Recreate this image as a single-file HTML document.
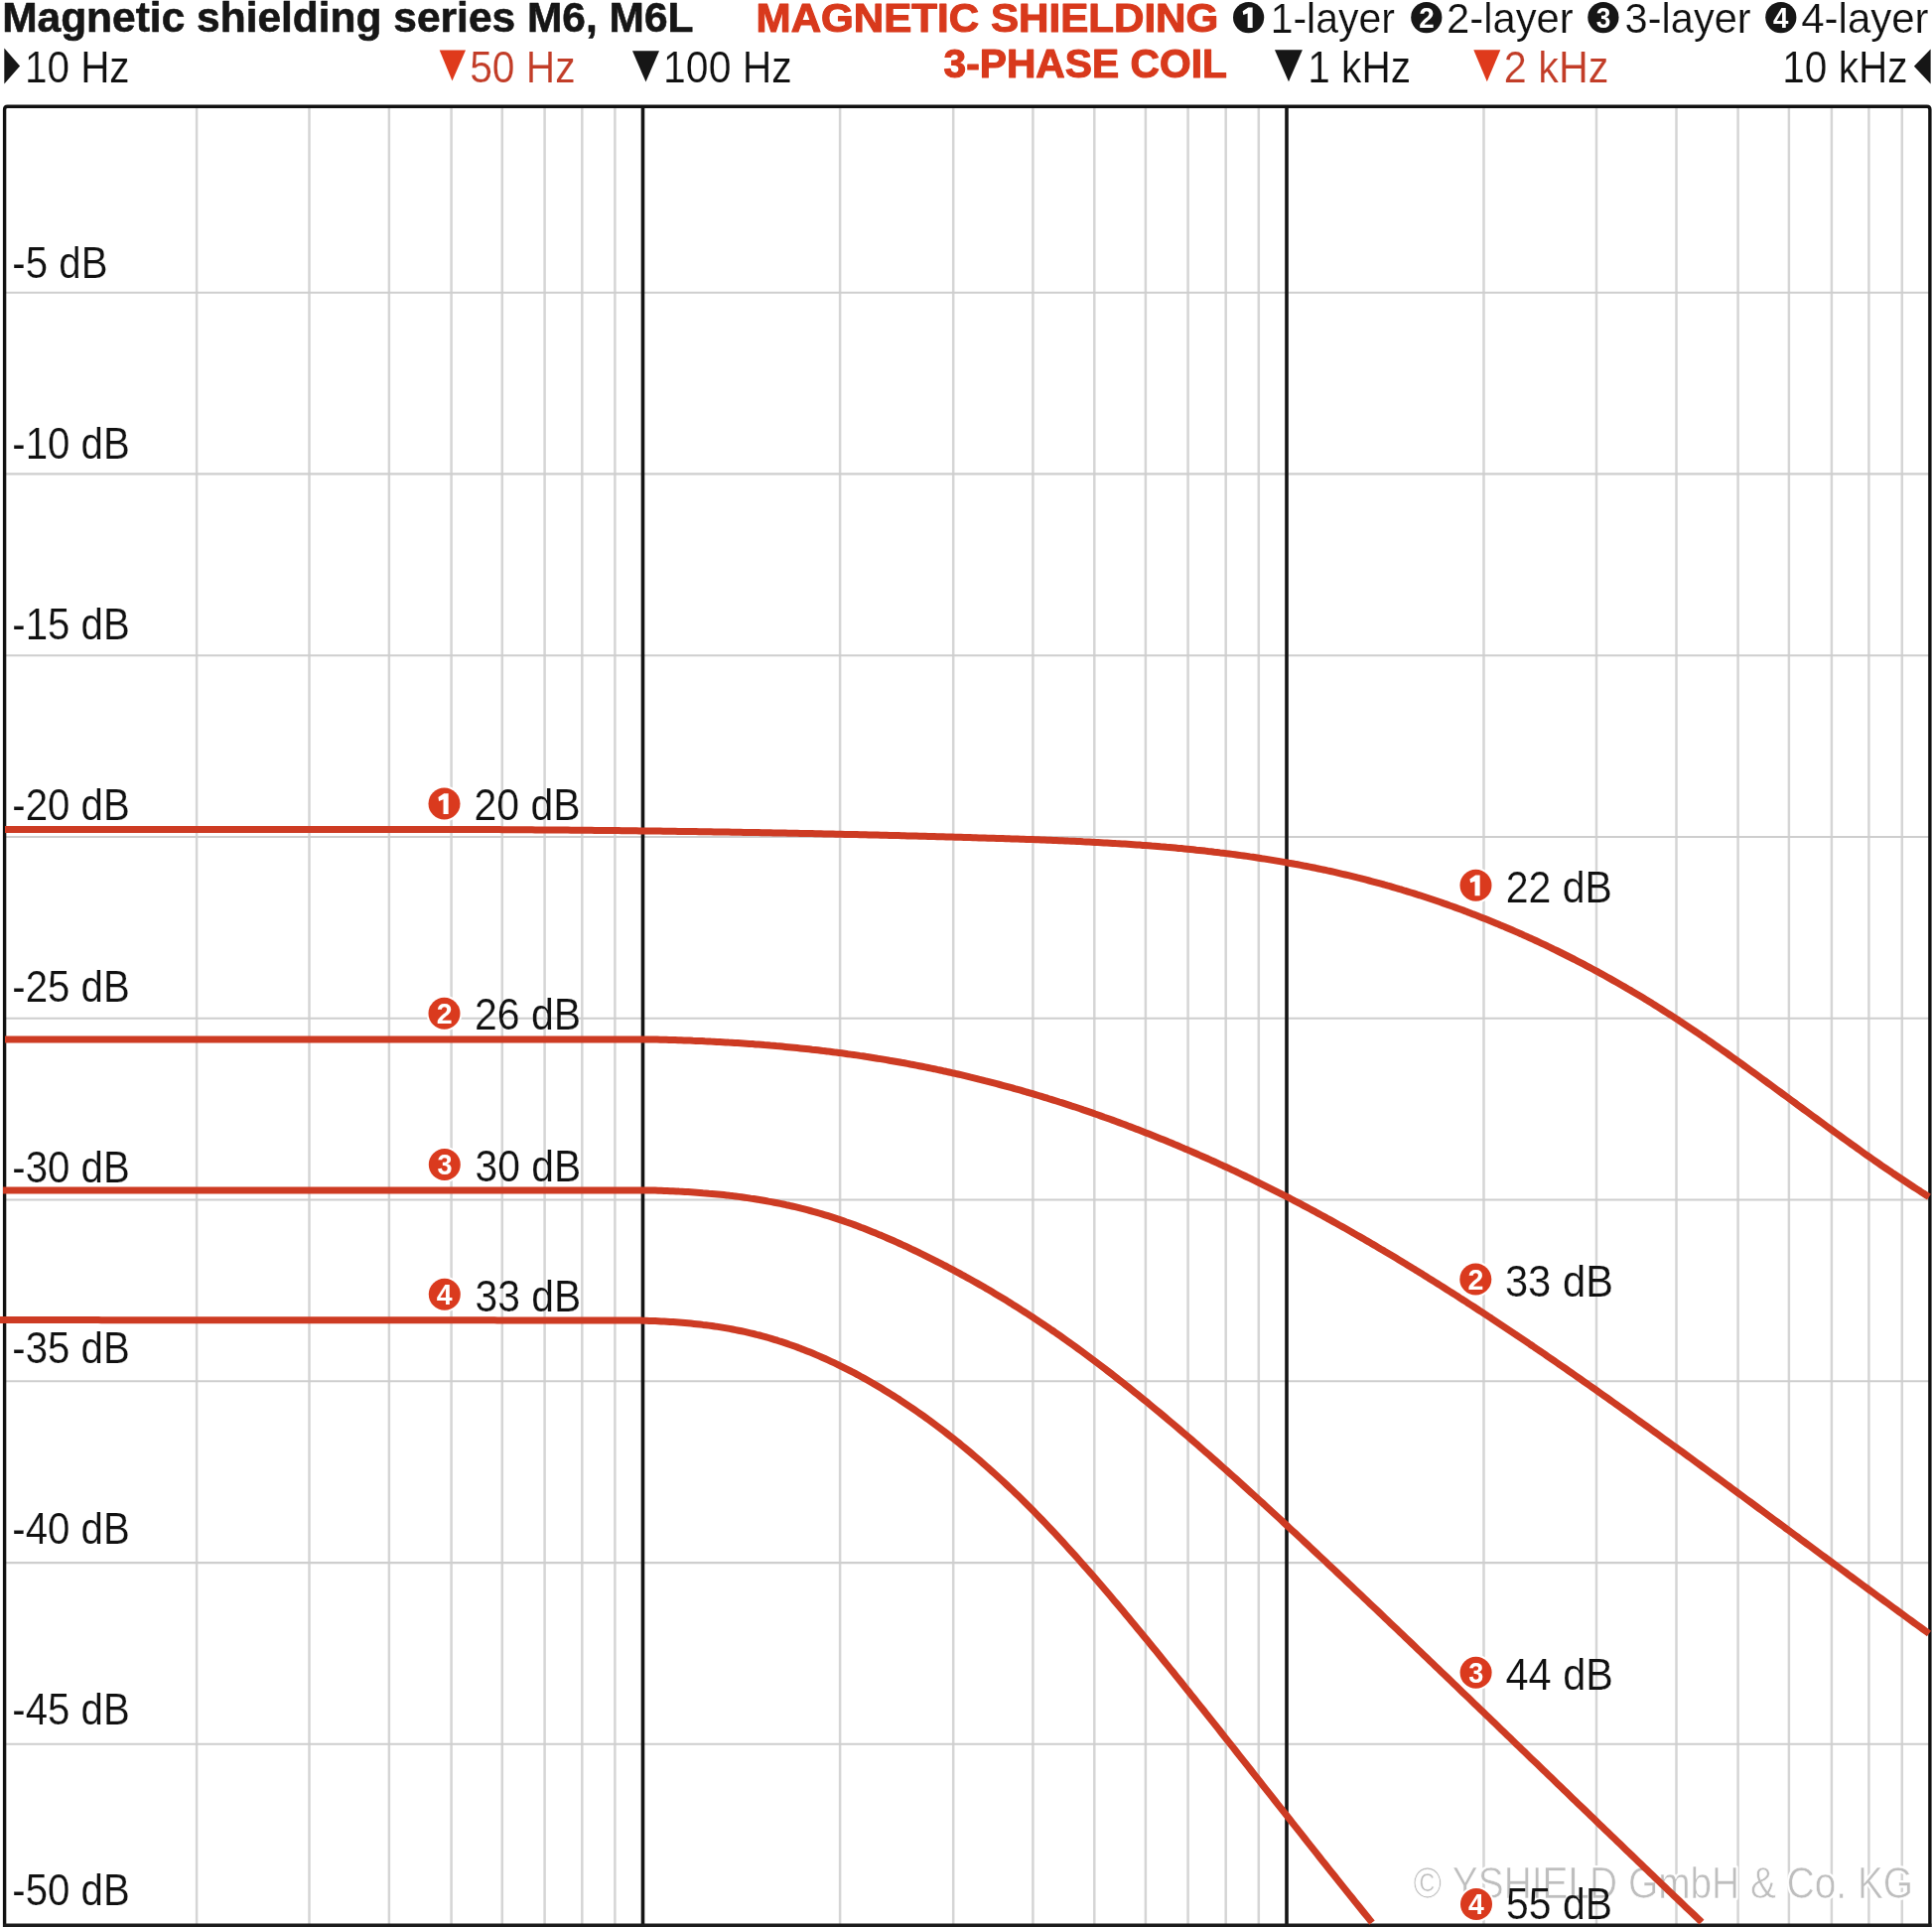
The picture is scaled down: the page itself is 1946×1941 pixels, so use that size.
<!DOCTYPE html><html><head><meta charset="utf-8"><style>html,body{margin:0;padding:0;background:#fff;width:1946px;height:1941px;overflow:hidden} svg{display:block;will-change:transform} text{font-family:"Liberation Sans", sans-serif;font-kerning:none}</style></head><body>
<svg width="1946" height="1941" viewBox="0 0 1946 1941">
<rect width="1946" height="1941" fill="#fff"/>
<g stroke="#d5d5d5" stroke-width="2.5">
<line x1="198.1" y1="107.2" x2="198.1" y2="1939.4"/>
<line x1="311.5" y1="107.2" x2="311.5" y2="1939.4"/>
<line x1="391.9" y1="107.2" x2="391.9" y2="1939.4"/>
<line x1="454.6" y1="107.2" x2="454.6" y2="1939.4"/>
<line x1="505.8" y1="107.2" x2="505.8" y2="1939.4"/>
<line x1="548.6" y1="107.2" x2="548.6" y2="1939.4"/>
<line x1="586.3" y1="107.2" x2="586.3" y2="1939.4"/>
<line x1="619.4" y1="107.2" x2="619.4" y2="1939.4"/>
<line x1="846.1" y1="107.2" x2="846.1" y2="1939.4"/>
<line x1="960.2" y1="107.2" x2="960.2" y2="1939.4"/>
<line x1="1040.4" y1="107.2" x2="1040.4" y2="1939.4"/>
<line x1="1102.3" y1="107.2" x2="1102.3" y2="1939.4"/>
<line x1="1153.9" y1="107.2" x2="1153.9" y2="1939.4"/>
<line x1="1196.6" y1="107.2" x2="1196.6" y2="1939.4"/>
<line x1="1234.7" y1="107.2" x2="1234.7" y2="1939.4"/>
<line x1="1267.8" y1="107.2" x2="1267.8" y2="1939.4"/>
<line x1="1494.5" y1="107.2" x2="1494.5" y2="1939.4"/>
<line x1="1608.0" y1="107.2" x2="1608.0" y2="1939.4"/>
<line x1="1688.5" y1="107.2" x2="1688.5" y2="1939.4"/>
<line x1="1750.6" y1="107.2" x2="1750.6" y2="1939.4"/>
<line x1="1801.9" y1="107.2" x2="1801.9" y2="1939.4"/>
<line x1="1844.9" y1="107.2" x2="1844.9" y2="1939.4"/>
<line x1="1882.4" y1="107.2" x2="1882.4" y2="1939.4"/>
<line x1="1915.8" y1="107.2" x2="1915.8" y2="1939.4"/>
</g><g stroke="#cecece" stroke-width="2.1">
<line x1="4.6" y1="294.7" x2="1943.9" y2="294.7"/>
<line x1="4.6" y1="477.4" x2="1943.9" y2="477.4"/>
<line x1="4.6" y1="660.2" x2="1943.9" y2="660.2"/>
<line x1="4.6" y1="843.0" x2="1943.9" y2="843.0"/>
<line x1="4.6" y1="1025.8" x2="1943.9" y2="1025.8"/>
<line x1="4.6" y1="1208.5" x2="1943.9" y2="1208.5"/>
<line x1="4.6" y1="1391.3" x2="1943.9" y2="1391.3"/>
<line x1="4.6" y1="1574.1" x2="1943.9" y2="1574.1"/>
<line x1="4.6" y1="1756.8" x2="1943.9" y2="1756.8"/>
</g>
<line x1="647.5" y1="107.2" x2="647.5" y2="1939.4" stroke="#141414" stroke-width="3.6"/>
<line x1="1296.0" y1="107.2" x2="1296.0" y2="1939.4" stroke="#141414" stroke-width="3.6"/>
<text x="1423.41" y="1912.30" font-size="44.33" fill="#fff" textLength="503.69" lengthAdjust="spacingAndGlyphs" stroke="#fff" stroke-width="4" stroke-linejoin="round">© YSHIELD GmbH &amp; Co. KG</text>
<text x="1423.41" y="1912.30" font-size="44.33" fill="#bebebe" textLength="503.69" lengthAdjust="spacingAndGlyphs" stroke="#fff" stroke-width="0.7">© YSHIELD GmbH &amp; Co. KG</text>
<path d="M4.6,1941.4 L4.6,110.2 Q4.6,107.2 7.6,107.2 L1940.9,107.2 Q1943.9,107.2 1943.9,110.2 L1943.9,1941.4" fill="none" stroke="#111" stroke-width="3.4"/>
<line x1="2.9999999999999996" y1="1939.4" x2="1945.5" y2="1939.4" stroke="#1c1c1c" stroke-width="3.8"/>
<g fill="none" stroke="#cd3b23" stroke-width="7.0" stroke-linejoin="round">
<path d="M5.0,835.6 L8.0,835.6 L11.0,835.6 L14.0,835.6 L17.0,835.6 L20.0,835.6 L23.0,835.6 L26.0,835.6 L29.0,835.6 L32.0,835.6 L35.0,835.6 L38.0,835.6 L41.0,835.6 L44.0,835.6 L47.0,835.6 L50.0,835.6 L53.0,835.6 L56.0,835.6 L59.0,835.6 L62.0,835.6 L65.0,835.6 L68.0,835.6 L71.0,835.6 L74.0,835.6 L77.0,835.6 L80.0,835.6 L83.0,835.6 L86.0,835.6 L89.0,835.6 L92.0,835.6 L95.0,835.6 L98.0,835.6 L101.0,835.6 L104.0,835.6 L107.0,835.6 L110.0,835.6 L113.0,835.6 L116.0,835.6 L119.0,835.6 L122.0,835.6 L125.0,835.6 L128.0,835.6 L131.0,835.6 L134.0,835.6 L137.0,835.6 L140.0,835.6 L143.0,835.6 L146.0,835.6 L149.0,835.6 L152.0,835.6 L155.0,835.6 L158.0,835.6 L161.0,835.6 L164.0,835.6 L167.0,835.6 L170.0,835.6 L173.0,835.6 L176.0,835.6 L179.0,835.6 L182.0,835.6 L185.0,835.6 L188.0,835.6 L191.0,835.6 L194.0,835.6 L197.0,835.6 L200.0,835.6 L203.0,835.6 L206.0,835.6 L209.0,835.6 L212.0,835.6 L215.0,835.6 L218.0,835.6 L221.0,835.6 L224.0,835.6 L227.0,835.6 L230.0,835.6 L233.0,835.6 L236.0,835.6 L239.0,835.6 L242.0,835.6 L245.0,835.6 L248.0,835.6 L251.0,835.6 L254.0,835.6 L257.0,835.6 L260.0,835.6 L263.0,835.6 L266.0,835.6 L269.0,835.6 L272.0,835.6 L275.0,835.6 L278.0,835.6 L281.0,835.6 L284.0,835.6 L287.0,835.6 L290.0,835.6 L293.0,835.6 L296.0,835.6 L299.0,835.6 L302.0,835.6 L305.0,835.6 L308.0,835.6 L311.0,835.6 L314.0,835.6 L317.0,835.6 L320.0,835.6 L323.0,835.6 L326.0,835.6 L329.0,835.6 L332.0,835.6 L335.0,835.6 L338.0,835.6 L341.0,835.6 L344.0,835.6 L347.0,835.6 L350.0,835.6 L353.0,835.6 L356.0,835.6 L359.0,835.6 L362.0,835.6 L365.0,835.6 L368.0,835.6 L371.0,835.6 L374.0,835.6 L377.0,835.6 L380.0,835.6 L383.0,835.6 L386.0,835.6 L389.0,835.6 L392.0,835.6 L395.0,835.6 L398.0,835.6 L401.0,835.6 L404.0,835.6 L407.0,835.6 L410.0,835.6 L413.0,835.6 L416.0,835.6 L419.0,835.6 L422.0,835.6 L425.0,835.6 L428.0,835.6 L431.0,835.6 L434.0,835.6 L437.0,835.6 L440.0,835.6 L443.0,835.6 L446.0,835.6 L449.0,835.6 L452.0,835.6 L455.0,835.6 L458.0,835.6 L461.0,835.6 L464.0,835.6 L467.0,835.6 L470.0,835.6 L473.0,835.6 L476.0,835.6 L479.0,835.6 L482.0,835.6 L485.0,835.6 L488.0,835.6 L491.0,835.6 L494.0,835.6 L497.0,835.6 L500.0,835.6 L503.0,835.6 L506.0,835.7 L509.0,835.7 L512.0,835.7 L515.0,835.7 L518.0,835.7 L521.0,835.7 L524.0,835.8 L527.0,835.8 L530.0,835.8 L533.0,835.8 L536.0,835.8 L539.0,835.9 L542.0,835.9 L545.0,835.9 L548.0,835.9 L551.0,836.0 L554.0,836.0 L557.0,836.0 L560.0,836.0 L563.0,836.1 L566.0,836.1 L569.0,836.1 L572.0,836.1 L575.0,836.2 L578.0,836.2 L581.0,836.2 L584.0,836.2 L587.0,836.3 L590.0,836.3 L593.0,836.3 L596.0,836.3 L599.0,836.4 L602.0,836.4 L605.0,836.4 L608.0,836.5 L611.0,836.5 L614.0,836.5 L617.0,836.6 L620.0,836.6 L623.0,836.6 L626.0,836.7 L629.0,836.7 L632.0,836.7 L635.0,836.8 L638.0,836.8 L641.0,836.8 L644.0,836.9 L647.0,836.9 L650.0,836.9 L653.0,837.0 L656.0,837.0 L659.0,837.0 L662.0,837.1 L665.0,837.1 L668.0,837.2 L671.0,837.2 L674.0,837.2 L677.0,837.3 L680.0,837.3 L683.0,837.4 L686.0,837.4 L689.0,837.4 L692.0,837.5 L695.0,837.5 L698.0,837.6 L701.0,837.6 L704.0,837.7 L707.0,837.7 L710.0,837.7 L713.0,837.8 L716.0,837.8 L719.0,837.9 L722.0,837.9 L725.0,838.0 L728.0,838.0 L731.0,838.1 L734.0,838.1 L737.0,838.2 L740.0,838.2 L743.0,838.3 L746.0,838.3 L749.0,838.4 L752.0,838.4 L755.0,838.5 L758.0,838.5 L761.0,838.6 L764.0,838.6 L767.0,838.7 L770.0,838.7 L773.0,838.8 L776.0,838.8 L779.0,838.9 L782.0,838.9 L785.0,839.0 L788.0,839.1 L791.0,839.1 L794.0,839.2 L797.0,839.2 L800.0,839.3 L803.0,839.3 L806.0,839.4 L809.0,839.5 L812.0,839.5 L815.0,839.6 L818.0,839.6 L821.0,839.7 L824.0,839.8 L827.0,839.8 L830.0,839.9 L833.0,840.0 L836.0,840.0 L839.0,840.1 L842.0,840.2 L845.0,840.2 L848.0,840.3 L851.0,840.4 L854.0,840.4 L857.0,840.5 L860.0,840.6 L863.0,840.6 L866.0,840.7 L869.0,840.8 L872.0,840.8 L875.0,840.9 L878.0,841.0 L881.0,841.0 L884.0,841.1 L887.0,841.2 L890.0,841.3 L893.0,841.3 L896.0,841.4 L899.0,841.5 L902.0,841.6 L905.0,841.6 L908.0,841.7 L911.0,841.8 L914.0,841.9 L917.0,841.9 L920.0,842.0 L923.0,842.1 L926.0,842.2 L929.0,842.3 L932.0,842.3 L935.0,842.4 L938.0,842.5 L941.0,842.6 L944.0,842.7 L947.0,842.7 L950.0,842.8 L953.0,842.9 L956.0,843.0 L959.0,843.1 L962.0,843.2 L965.0,843.3 L968.0,843.3 L971.0,843.4 L974.0,843.5 L977.0,843.6 L980.0,843.7 L983.0,843.8 L986.0,843.9 L989.0,844.0 L992.0,844.1 L995.0,844.2 L998.0,844.2 L1001.0,844.3 L1004.0,844.4 L1007.0,844.5 L1010.0,844.6 L1013.0,844.7 L1016.0,844.8 L1019.0,844.9 L1022.0,845.0 L1025.0,845.1 L1028.0,845.2 L1031.0,845.3 L1034.0,845.4 L1037.0,845.5 L1040.0,845.6 L1043.0,845.7 L1046.0,845.8 L1049.0,846.0 L1052.0,846.1 L1055.0,846.2 L1058.0,846.3 L1061.0,846.4 L1064.0,846.5 L1067.0,846.7 L1070.0,846.8 L1073.0,846.9 L1076.0,847.1 L1079.0,847.2 L1082.0,847.3 L1085.0,847.5 L1088.0,847.6 L1091.0,847.8 L1094.0,847.9 L1097.0,848.0 L1100.0,848.2 L1103.0,848.4 L1106.0,848.5 L1109.0,848.7 L1112.0,848.9 L1115.0,849.0 L1118.0,849.2 L1121.0,849.4 L1124.0,849.6 L1127.0,849.7 L1130.0,849.9 L1133.0,850.1 L1136.0,850.3 L1139.0,850.5 L1142.0,850.7 L1145.0,850.9 L1148.0,851.1 L1151.0,851.4 L1154.0,851.6 L1157.0,851.8 L1160.0,852.1 L1163.0,852.3 L1166.0,852.5 L1169.0,852.8 L1172.0,853.0 L1175.0,853.3 L1178.0,853.5 L1181.0,853.8 L1184.0,854.1 L1187.0,854.4 L1190.0,854.6 L1193.0,854.9 L1196.0,855.2 L1199.0,855.5 L1202.0,855.8 L1205.0,856.2 L1208.0,856.5 L1211.0,856.8 L1214.0,857.1 L1217.0,857.5 L1220.0,857.8 L1223.0,858.2 L1226.0,858.5 L1229.0,858.9 L1232.0,859.2 L1235.0,859.6 L1238.0,860.0 L1241.0,860.4 L1244.0,860.8 L1247.0,861.2 L1250.0,861.6 L1253.0,862.0 L1256.0,862.4 L1259.0,862.9 L1262.0,863.3 L1265.0,863.7 L1268.0,864.2 L1271.0,864.7 L1274.0,865.1 L1277.0,865.6 L1280.0,866.1 L1283.0,866.6 L1286.0,867.1 L1289.0,867.6 L1292.0,868.1 L1295.0,868.6 L1298.0,869.2 L1301.0,869.7 L1304.0,870.3 L1307.0,870.8 L1310.0,871.4 L1313.0,872.0 L1316.0,872.5 L1319.0,873.1 L1322.0,873.7 L1325.0,874.3 L1328.0,875.0 L1331.0,875.6 L1334.0,876.2 L1337.0,876.9 L1340.0,877.5 L1343.0,878.2 L1346.0,878.9 L1349.0,879.6 L1352.0,880.3 L1355.0,881.0 L1358.0,881.7 L1361.0,882.4 L1364.0,883.1 L1367.0,883.9 L1370.0,884.6 L1373.0,885.4 L1376.0,886.2 L1379.0,887.0 L1382.0,887.8 L1385.0,888.6 L1388.0,889.4 L1391.0,890.2 L1394.0,891.0 L1397.0,891.9 L1400.0,892.7 L1403.0,893.6 L1406.0,894.5 L1409.0,895.4 L1412.0,896.2 L1415.0,897.2 L1418.0,898.1 L1421.0,899.0 L1424.0,899.9 L1427.0,900.9 L1430.0,901.8 L1433.0,902.8 L1436.0,903.8 L1439.0,904.8 L1442.0,905.8 L1445.0,906.8 L1448.0,907.8 L1451.0,908.8 L1454.0,909.9 L1457.0,910.9 L1460.0,912.0 L1463.0,913.0 L1466.0,914.1 L1469.0,915.2 L1472.0,916.3 L1475.0,917.4 L1478.0,918.6 L1481.0,919.7 L1484.0,920.9 L1487.0,922.0 L1490.0,923.2 L1493.0,924.4 L1496.0,925.6 L1499.0,926.8 L1502.0,928.0 L1505.0,929.2 L1508.0,930.4 L1511.0,931.7 L1514.0,932.9 L1517.0,934.2 L1520.0,935.5 L1523.0,936.8 L1526.0,938.1 L1529.0,939.4 L1532.0,940.7 L1535.0,942.1 L1538.0,943.4 L1541.0,944.8 L1544.0,946.1 L1547.0,947.5 L1550.0,948.9 L1553.0,950.3 L1556.0,951.7 L1559.0,953.2 L1562.0,954.6 L1565.0,956.1 L1568.0,957.5 L1571.0,959.0 L1574.0,960.5 L1577.0,962.0 L1580.0,963.5 L1583.0,965.0 L1586.0,966.5 L1589.0,968.1 L1592.0,969.6 L1595.0,971.2 L1598.0,972.8 L1601.0,974.4 L1604.0,976.0 L1607.0,977.6 L1610.0,979.2 L1613.0,980.9 L1616.0,982.5 L1619.0,984.2 L1622.0,985.9 L1625.0,987.6 L1628.0,989.3 L1631.0,991.0 L1634.0,992.7 L1637.0,994.4 L1640.0,996.2 L1643.0,997.9 L1646.0,999.7 L1649.0,1001.5 L1652.0,1003.3 L1655.0,1005.1 L1658.0,1006.9 L1661.0,1008.8 L1664.0,1010.6 L1667.0,1012.5 L1670.0,1014.4 L1673.0,1016.3 L1676.0,1018.2 L1679.0,1020.1 L1682.0,1022.0 L1685.0,1023.9 L1688.0,1025.9 L1691.0,1027.8 L1694.0,1029.8 L1697.0,1031.8 L1700.0,1033.8 L1703.0,1035.8 L1706.0,1037.8 L1709.0,1039.9 L1712.0,1041.9 L1715.0,1044.0 L1718.0,1046.0 L1721.0,1048.1 L1724.0,1050.2 L1727.0,1052.3 L1730.0,1054.4 L1733.0,1056.5 L1736.0,1058.6 L1739.0,1060.7 L1742.0,1062.9 L1745.0,1065.0 L1748.0,1067.1 L1751.0,1069.3 L1754.0,1071.4 L1757.0,1073.6 L1760.0,1075.8 L1763.0,1078.0 L1766.0,1080.1 L1769.0,1082.3 L1772.0,1084.5 L1775.0,1086.7 L1778.0,1088.9 L1781.0,1091.1 L1784.0,1093.3 L1787.0,1095.5 L1790.0,1097.7 L1793.0,1099.9 L1796.0,1102.1 L1799.0,1104.3 L1802.0,1106.5 L1805.0,1108.7 L1808.0,1110.9 L1811.0,1113.2 L1814.0,1115.4 L1817.0,1117.6 L1820.0,1119.8 L1823.0,1122.0 L1826.0,1124.2 L1829.0,1126.4 L1832.0,1128.6 L1835.0,1130.8 L1838.0,1133.0 L1841.0,1135.2 L1844.0,1137.4 L1847.0,1139.6 L1850.0,1141.8 L1853.0,1143.9 L1856.0,1146.1 L1859.0,1148.3 L1862.0,1150.4 L1865.0,1152.6 L1868.0,1154.7 L1871.0,1156.9 L1874.0,1159.0 L1877.0,1161.2 L1880.0,1163.3 L1883.0,1165.4 L1886.0,1167.5 L1889.0,1169.6 L1892.0,1171.7 L1895.0,1173.8 L1898.0,1175.8 L1901.0,1177.9 L1904.0,1179.9 L1907.0,1182.0 L1910.0,1184.0 L1913.0,1186.0 L1916.0,1188.0 L1919.0,1190.0 L1922.0,1192.0 L1925.0,1194.0 L1928.0,1196.0 L1931.0,1197.9 L1934.0,1199.8 L1937.0,1201.8 L1940.0,1203.7 L1943.0,1205.6"/>
<path d="M5.0,1047.0 L8.0,1047.0 L11.0,1047.0 L14.0,1047.0 L17.0,1047.0 L20.0,1047.0 L23.0,1047.0 L26.0,1047.0 L29.0,1047.0 L32.0,1047.0 L35.0,1047.0 L38.0,1047.0 L41.0,1047.0 L44.0,1047.0 L47.0,1047.0 L50.0,1047.0 L53.0,1047.0 L56.0,1047.0 L59.0,1047.0 L62.0,1047.0 L65.0,1047.0 L68.0,1047.0 L71.0,1047.0 L74.0,1047.0 L77.0,1047.0 L80.0,1047.0 L83.0,1047.0 L86.0,1047.0 L89.0,1047.0 L92.0,1047.0 L95.0,1047.0 L98.0,1047.0 L101.0,1047.0 L104.0,1047.0 L107.0,1047.0 L110.0,1047.0 L113.0,1047.0 L116.0,1047.0 L119.0,1047.0 L122.0,1047.0 L125.0,1047.0 L128.0,1047.0 L131.0,1047.0 L134.0,1047.0 L137.0,1047.0 L140.0,1047.0 L143.0,1047.0 L146.0,1047.0 L149.0,1047.0 L152.0,1047.0 L155.0,1047.0 L158.0,1047.0 L161.0,1047.0 L164.0,1047.0 L167.0,1047.0 L170.0,1047.0 L173.0,1047.0 L176.0,1047.0 L179.0,1047.0 L182.0,1047.0 L185.0,1047.0 L188.0,1047.0 L191.0,1047.0 L194.0,1047.0 L197.0,1047.0 L200.0,1047.0 L203.0,1047.0 L206.0,1047.0 L209.0,1047.0 L212.0,1047.0 L215.0,1047.0 L218.0,1047.0 L221.0,1047.0 L224.0,1047.0 L227.0,1047.0 L230.0,1047.0 L233.0,1047.0 L236.0,1047.0 L239.0,1047.0 L242.0,1047.0 L245.0,1047.0 L248.0,1047.0 L251.0,1047.0 L254.0,1047.0 L257.0,1047.0 L260.0,1047.0 L263.0,1047.0 L266.0,1047.0 L269.0,1047.0 L272.0,1047.0 L275.0,1047.0 L278.0,1047.0 L281.0,1047.0 L284.0,1047.0 L287.0,1047.0 L290.0,1047.0 L293.0,1047.0 L296.0,1047.0 L299.0,1047.0 L302.0,1047.0 L305.0,1047.0 L308.0,1047.0 L311.0,1047.0 L314.0,1047.0 L317.0,1047.0 L320.0,1047.0 L323.0,1047.0 L326.0,1047.0 L329.0,1047.0 L332.0,1047.0 L335.0,1047.0 L338.0,1047.0 L341.0,1047.0 L344.0,1047.0 L347.0,1047.0 L350.0,1047.0 L353.0,1047.0 L356.0,1047.0 L359.0,1047.0 L362.0,1047.0 L365.0,1047.0 L368.0,1047.0 L371.0,1047.0 L374.0,1047.0 L377.0,1047.0 L380.0,1047.0 L383.0,1047.0 L386.0,1047.0 L389.0,1047.0 L392.0,1047.0 L395.0,1047.0 L398.0,1047.0 L401.0,1047.0 L404.0,1047.0 L407.0,1047.0 L410.0,1047.0 L413.0,1047.0 L416.0,1047.0 L419.0,1047.0 L422.0,1047.0 L425.0,1047.0 L428.0,1047.0 L431.0,1047.0 L434.0,1047.0 L437.0,1047.0 L440.0,1047.0 L443.0,1047.0 L446.0,1047.0 L449.0,1047.0 L452.0,1047.0 L455.0,1047.0 L458.0,1047.0 L461.0,1047.0 L464.0,1047.0 L467.0,1047.0 L470.0,1047.0 L473.0,1047.0 L476.0,1047.0 L479.0,1047.0 L482.0,1047.0 L485.0,1047.0 L488.0,1047.0 L491.0,1047.0 L494.0,1047.0 L497.0,1047.0 L500.0,1047.0 L503.0,1047.0 L506.0,1047.0 L509.0,1047.0 L512.0,1047.0 L515.0,1047.0 L518.0,1047.0 L521.0,1047.0 L524.0,1047.0 L527.0,1047.0 L530.0,1047.0 L533.0,1047.0 L536.0,1047.0 L539.0,1047.0 L542.0,1047.0 L545.0,1047.0 L548.0,1047.0 L551.0,1047.0 L554.0,1047.0 L557.0,1047.0 L560.0,1047.0 L563.0,1047.0 L566.0,1047.0 L569.0,1047.0 L572.0,1047.0 L575.0,1047.0 L578.0,1047.0 L581.0,1047.0 L584.0,1047.0 L587.0,1047.0 L590.0,1047.0 L593.0,1047.0 L596.0,1047.0 L599.0,1047.0 L602.0,1047.0 L605.0,1047.0 L608.0,1047.0 L611.0,1047.0 L614.0,1047.0 L617.0,1047.0 L620.0,1047.0 L623.0,1047.0 L626.0,1047.0 L629.0,1047.0 L632.0,1047.0 L635.0,1047.0 L638.0,1047.0 L641.0,1047.0 L644.0,1047.0 L647.0,1047.0 L650.0,1047.0 L653.0,1047.0 L656.0,1047.0 L659.0,1047.0 L662.0,1047.1 L665.0,1047.2 L668.0,1047.2 L671.0,1047.3 L674.0,1047.4 L677.0,1047.5 L680.0,1047.6 L683.0,1047.7 L686.0,1047.8 L689.0,1047.9 L692.0,1048.0 L695.0,1048.1 L698.0,1048.3 L701.0,1048.4 L704.0,1048.5 L707.0,1048.6 L710.0,1048.8 L713.0,1048.9 L716.0,1049.1 L719.0,1049.2 L722.0,1049.4 L725.0,1049.5 L728.0,1049.7 L731.0,1049.9 L734.0,1050.1 L737.0,1050.2 L740.0,1050.4 L743.0,1050.6 L746.0,1050.8 L749.0,1051.0 L752.0,1051.2 L755.0,1051.4 L758.0,1051.6 L761.0,1051.9 L764.0,1052.1 L767.0,1052.3 L770.0,1052.6 L773.0,1052.8 L776.0,1053.1 L779.0,1053.3 L782.0,1053.6 L785.0,1053.8 L788.0,1054.1 L791.0,1054.4 L794.0,1054.7 L797.0,1055.0 L800.0,1055.3 L803.0,1055.6 L806.0,1055.9 L809.0,1056.2 L812.0,1056.5 L815.0,1056.8 L818.0,1057.2 L821.0,1057.5 L824.0,1057.8 L827.0,1058.2 L830.0,1058.6 L833.0,1058.9 L836.0,1059.3 L839.0,1059.7 L842.0,1060.1 L845.0,1060.4 L848.0,1060.8 L851.0,1061.2 L854.0,1061.7 L857.0,1062.1 L860.0,1062.5 L863.0,1062.9 L866.0,1063.4 L869.0,1063.8 L872.0,1064.3 L875.0,1064.7 L878.0,1065.2 L881.0,1065.7 L884.0,1066.2 L887.0,1066.6 L890.0,1067.1 L893.0,1067.6 L896.0,1068.2 L899.0,1068.7 L902.0,1069.2 L905.0,1069.7 L908.0,1070.3 L911.0,1070.8 L914.0,1071.4 L917.0,1072.0 L920.0,1072.5 L923.0,1073.1 L926.0,1073.7 L929.0,1074.3 L932.0,1074.9 L935.0,1075.5 L938.0,1076.1 L941.0,1076.7 L944.0,1077.4 L947.0,1078.0 L950.0,1078.7 L953.0,1079.3 L956.0,1080.0 L959.0,1080.7 L962.0,1081.3 L965.0,1082.0 L968.0,1082.7 L971.0,1083.4 L974.0,1084.1 L977.0,1084.9 L980.0,1085.6 L983.0,1086.3 L986.0,1087.1 L989.0,1087.8 L992.0,1088.6 L995.0,1089.3 L998.0,1090.1 L1001.0,1090.9 L1004.0,1091.7 L1007.0,1092.5 L1010.0,1093.3 L1013.0,1094.1 L1016.0,1094.9 L1019.0,1095.7 L1022.0,1096.6 L1025.0,1097.4 L1028.0,1098.2 L1031.0,1099.1 L1034.0,1100.0 L1037.0,1100.8 L1040.0,1101.7 L1043.0,1102.6 L1046.0,1103.5 L1049.0,1104.4 L1052.0,1105.3 L1055.0,1106.2 L1058.0,1107.2 L1061.0,1108.1 L1064.0,1109.0 L1067.0,1110.0 L1070.0,1110.9 L1073.0,1111.9 L1076.0,1112.9 L1079.0,1113.9 L1082.0,1114.8 L1085.0,1115.8 L1088.0,1116.8 L1091.0,1117.9 L1094.0,1118.9 L1097.0,1119.9 L1100.0,1120.9 L1103.0,1122.0 L1106.0,1123.0 L1109.0,1124.1 L1112.0,1125.2 L1115.0,1126.2 L1118.0,1127.3 L1121.0,1128.4 L1124.0,1129.5 L1127.0,1130.6 L1130.0,1131.7 L1133.0,1132.8 L1136.0,1134.0 L1139.0,1135.1 L1142.0,1136.2 L1145.0,1137.4 L1148.0,1138.5 L1151.0,1139.7 L1154.0,1140.9 L1157.0,1142.1 L1160.0,1143.3 L1163.0,1144.5 L1166.0,1145.7 L1169.0,1146.9 L1172.0,1148.1 L1175.0,1149.3 L1178.0,1150.6 L1181.0,1151.8 L1184.0,1153.1 L1187.0,1154.3 L1190.0,1155.6 L1193.0,1156.9 L1196.0,1158.1 L1199.0,1159.4 L1202.0,1160.7 L1205.0,1162.0 L1208.0,1163.4 L1211.0,1164.7 L1214.0,1166.0 L1217.0,1167.3 L1220.0,1168.7 L1223.0,1170.0 L1226.0,1171.4 L1229.0,1172.8 L1232.0,1174.2 L1235.0,1175.5 L1238.0,1176.9 L1241.0,1178.3 L1244.0,1179.7 L1247.0,1181.2 L1250.0,1182.6 L1253.0,1184.0 L1256.0,1185.5 L1259.0,1186.9 L1262.0,1188.4 L1265.0,1189.8 L1268.0,1191.3 L1271.0,1192.8 L1274.0,1194.3 L1277.0,1195.8 L1280.0,1197.3 L1283.0,1198.8 L1286.0,1200.3 L1289.0,1201.8 L1292.0,1203.4 L1295.0,1204.9 L1298.0,1206.4 L1301.0,1208.0 L1304.0,1209.6 L1307.0,1211.1 L1310.0,1212.7 L1313.0,1214.3 L1316.0,1215.9 L1319.0,1217.5 L1322.0,1219.1 L1325.0,1220.7 L1328.0,1222.4 L1331.0,1224.0 L1334.0,1225.6 L1337.0,1227.3 L1340.0,1228.9 L1343.0,1230.6 L1346.0,1232.3 L1349.0,1234.0 L1352.0,1235.6 L1355.0,1237.3 L1358.0,1239.0 L1361.0,1240.7 L1364.0,1242.5 L1367.0,1244.2 L1370.0,1245.9 L1373.0,1247.6 L1376.0,1249.4 L1379.0,1251.1 L1382.0,1252.9 L1385.0,1254.6 L1388.0,1256.4 L1391.0,1258.2 L1394.0,1259.9 L1397.0,1261.7 L1400.0,1263.5 L1403.0,1265.3 L1406.0,1267.1 L1409.0,1268.9 L1412.0,1270.7 L1415.0,1272.6 L1418.0,1274.4 L1421.0,1276.2 L1424.0,1278.1 L1427.0,1279.9 L1430.0,1281.8 L1433.0,1283.6 L1436.0,1285.5 L1439.0,1287.4 L1442.0,1289.2 L1445.0,1291.1 L1448.0,1293.0 L1451.0,1294.9 L1454.0,1296.8 L1457.0,1298.7 L1460.0,1300.6 L1463.0,1302.5 L1466.0,1304.4 L1469.0,1306.3 L1472.0,1308.3 L1475.0,1310.2 L1478.0,1312.2 L1481.0,1314.1 L1484.0,1316.0 L1487.0,1318.0 L1490.0,1320.0 L1493.0,1321.9 L1496.0,1323.9 L1499.0,1325.9 L1502.0,1327.8 L1505.0,1329.8 L1508.0,1331.8 L1511.0,1333.8 L1514.0,1335.8 L1517.0,1337.8 L1520.0,1339.8 L1523.0,1341.8 L1526.0,1343.8 L1529.0,1345.9 L1532.0,1347.9 L1535.0,1349.9 L1538.0,1351.9 L1541.0,1354.0 L1544.0,1356.0 L1547.0,1358.1 L1550.0,1360.1 L1553.0,1362.2 L1556.0,1364.2 L1559.0,1366.3 L1562.0,1368.3 L1565.0,1370.4 L1568.0,1372.5 L1571.0,1374.6 L1574.0,1376.6 L1577.0,1378.7 L1580.0,1380.8 L1583.0,1382.9 L1586.0,1385.0 L1589.0,1387.1 L1592.0,1389.2 L1595.0,1391.3 L1598.0,1393.4 L1601.0,1395.5 L1604.0,1397.6 L1607.0,1399.7 L1610.0,1401.8 L1613.0,1404.0 L1616.0,1406.1 L1619.0,1408.2 L1622.0,1410.4 L1625.0,1412.5 L1628.0,1414.6 L1631.0,1416.8 L1634.0,1418.9 L1637.0,1421.1 L1640.0,1423.2 L1643.0,1425.3 L1646.0,1427.5 L1649.0,1429.7 L1652.0,1431.8 L1655.0,1434.0 L1658.0,1436.1 L1661.0,1438.3 L1664.0,1440.5 L1667.0,1442.6 L1670.0,1444.8 L1673.0,1447.0 L1676.0,1449.2 L1679.0,1451.3 L1682.0,1453.5 L1685.0,1455.7 L1688.0,1457.9 L1691.0,1460.1 L1694.0,1462.2 L1697.0,1464.4 L1700.0,1466.6 L1703.0,1468.8 L1706.0,1471.0 L1709.0,1473.2 L1712.0,1475.4 L1715.0,1477.6 L1718.0,1479.8 L1721.0,1482.0 L1724.0,1484.2 L1727.0,1486.4 L1730.0,1488.6 L1733.0,1490.8 L1736.0,1493.0 L1739.0,1495.2 L1742.0,1497.4 L1745.0,1499.7 L1748.0,1501.9 L1751.0,1504.1 L1754.0,1506.3 L1757.0,1508.5 L1760.0,1510.7 L1763.0,1512.9 L1766.0,1515.1 L1769.0,1517.4 L1772.0,1519.6 L1775.0,1521.8 L1778.0,1524.0 L1781.0,1526.2 L1784.0,1528.5 L1787.0,1530.7 L1790.0,1532.9 L1793.0,1535.1 L1796.0,1537.3 L1799.0,1539.6 L1802.0,1541.8 L1805.0,1544.0 L1808.0,1546.2 L1811.0,1548.4 L1814.0,1550.7 L1817.0,1552.9 L1820.0,1555.1 L1823.0,1557.3 L1826.0,1559.5 L1829.0,1561.8 L1832.0,1564.0 L1835.0,1566.2 L1838.0,1568.4 L1841.0,1570.6 L1844.0,1572.9 L1847.0,1575.1 L1850.0,1577.3 L1853.0,1579.5 L1856.0,1581.7 L1859.0,1583.9 L1862.0,1586.2 L1865.0,1588.4 L1868.0,1590.6 L1871.0,1592.8 L1874.0,1595.0 L1877.0,1597.2 L1880.0,1599.4 L1883.0,1601.6 L1886.0,1603.8 L1889.0,1606.0 L1892.0,1608.2 L1895.0,1610.4 L1898.0,1612.6 L1901.0,1614.8 L1904.0,1617.0 L1907.0,1619.2 L1910.0,1621.4 L1913.0,1623.6 L1916.0,1625.8 L1919.0,1628.0 L1922.0,1630.2 L1925.0,1632.4 L1928.0,1634.6 L1931.0,1636.8 L1934.0,1638.9 L1937.0,1641.1 L1940.0,1643.3 L1943.0,1645.5"/>
<path d="M3.0,1199.0 L6.0,1199.0 L9.0,1199.0 L12.0,1199.0 L15.0,1199.0 L18.0,1199.0 L21.0,1199.0 L24.0,1199.0 L27.0,1199.0 L30.0,1199.0 L33.0,1199.0 L36.0,1199.0 L39.0,1199.0 L42.0,1199.0 L45.0,1199.0 L48.0,1199.0 L51.0,1199.0 L54.0,1199.0 L57.0,1199.0 L60.0,1199.0 L63.0,1199.0 L66.0,1199.0 L69.0,1199.0 L72.0,1199.0 L75.0,1199.0 L78.0,1199.0 L81.0,1199.0 L84.0,1199.0 L87.0,1199.0 L90.0,1199.0 L93.0,1199.0 L96.0,1199.0 L99.0,1199.0 L102.0,1199.0 L105.0,1199.0 L108.0,1199.0 L111.0,1199.0 L114.0,1199.0 L117.0,1199.0 L120.0,1199.0 L123.0,1199.0 L126.0,1199.0 L129.0,1199.0 L132.0,1199.0 L135.0,1199.0 L138.0,1199.0 L141.0,1199.0 L144.0,1199.0 L147.0,1199.0 L150.0,1199.0 L153.0,1199.0 L156.0,1199.0 L159.0,1199.0 L162.0,1199.0 L165.0,1199.0 L168.0,1199.0 L171.0,1199.0 L174.0,1199.0 L177.0,1199.0 L180.0,1199.0 L183.0,1199.0 L186.0,1199.0 L189.0,1199.0 L192.0,1199.0 L195.0,1199.0 L198.0,1199.0 L201.0,1199.0 L204.0,1199.0 L207.0,1199.0 L210.0,1199.0 L213.0,1199.0 L216.0,1199.0 L219.0,1199.0 L222.0,1199.0 L225.0,1199.0 L228.0,1199.0 L231.0,1199.0 L234.0,1199.0 L237.0,1199.0 L240.0,1199.0 L243.0,1199.0 L246.0,1199.0 L249.0,1199.0 L252.0,1199.0 L255.0,1199.0 L258.0,1199.0 L261.0,1199.0 L264.0,1199.0 L267.0,1199.0 L270.0,1199.0 L273.0,1199.0 L276.0,1199.0 L279.0,1199.0 L282.0,1199.0 L285.0,1199.0 L288.0,1199.0 L291.0,1199.0 L294.0,1199.0 L297.0,1199.0 L300.0,1199.0 L303.0,1199.0 L306.0,1199.0 L309.0,1199.0 L312.0,1199.0 L315.0,1199.0 L318.0,1199.0 L321.0,1199.0 L324.0,1199.0 L327.0,1199.0 L330.0,1199.0 L333.0,1199.0 L336.0,1199.0 L339.0,1199.0 L342.0,1199.0 L345.0,1199.0 L348.0,1199.0 L351.0,1199.0 L354.0,1199.0 L357.0,1199.0 L360.0,1199.0 L363.0,1199.0 L366.0,1199.0 L369.0,1199.0 L372.0,1199.0 L375.0,1199.0 L378.0,1199.0 L381.0,1199.0 L384.0,1199.0 L387.0,1199.0 L390.0,1199.0 L393.0,1199.0 L396.0,1199.0 L399.0,1199.0 L402.0,1199.0 L405.0,1199.0 L408.0,1199.0 L411.0,1199.0 L414.0,1199.0 L417.0,1199.0 L420.0,1199.0 L423.0,1199.0 L426.0,1199.0 L429.0,1199.0 L432.0,1199.0 L435.0,1199.0 L438.0,1199.0 L441.0,1199.0 L444.0,1199.0 L447.0,1199.0 L450.0,1199.0 L453.0,1199.0 L456.0,1199.0 L459.0,1199.0 L462.0,1199.0 L465.0,1199.0 L468.0,1199.0 L471.0,1199.0 L474.0,1199.0 L477.0,1199.0 L480.0,1199.0 L483.0,1199.0 L486.0,1199.0 L489.0,1199.0 L492.0,1199.0 L495.0,1199.0 L498.0,1199.0 L501.0,1199.0 L504.0,1199.0 L507.0,1199.0 L510.0,1199.0 L513.0,1199.0 L516.0,1199.0 L519.0,1199.0 L522.0,1199.0 L525.0,1199.0 L528.0,1199.0 L531.0,1199.0 L534.0,1199.0 L537.0,1199.0 L540.0,1199.0 L543.0,1199.0 L546.0,1199.0 L549.0,1199.0 L552.0,1199.0 L555.0,1199.0 L558.0,1199.0 L561.0,1199.0 L564.0,1199.0 L567.0,1199.0 L570.0,1199.0 L573.0,1199.0 L576.0,1199.0 L579.0,1199.0 L582.0,1199.0 L585.0,1199.0 L588.0,1199.0 L591.0,1199.0 L594.0,1199.0 L597.0,1199.0 L600.0,1199.0 L603.0,1199.0 L606.0,1199.0 L609.0,1199.0 L612.0,1199.0 L615.0,1199.0 L618.0,1199.0 L621.0,1199.0 L624.0,1199.0 L627.0,1199.0 L630.0,1199.0 L633.0,1199.0 L636.0,1199.0 L639.0,1199.0 L642.0,1199.0 L645.0,1199.0 L648.0,1199.0 L651.0,1199.0 L654.0,1199.0 L657.0,1199.0 L660.0,1199.1 L663.0,1199.2 L666.0,1199.3 L669.0,1199.4 L672.0,1199.5 L675.0,1199.7 L678.0,1199.8 L681.0,1199.9 L684.0,1200.1 L687.0,1200.2 L690.0,1200.4 L693.0,1200.6 L696.0,1200.8 L699.0,1201.0 L702.0,1201.2 L705.0,1201.4 L708.0,1201.7 L711.0,1201.9 L714.0,1202.2 L717.0,1202.4 L720.0,1202.7 L723.0,1203.0 L726.0,1203.3 L729.0,1203.6 L732.0,1203.9 L735.0,1204.3 L738.0,1204.6 L741.0,1205.0 L744.0,1205.4 L747.0,1205.8 L750.0,1206.2 L753.0,1206.6 L756.0,1207.1 L759.0,1207.5 L762.0,1208.0 L765.0,1208.5 L768.0,1209.0 L771.0,1209.5 L774.0,1210.1 L777.0,1210.6 L780.0,1211.2 L783.0,1211.8 L786.0,1212.4 L789.0,1213.0 L792.0,1213.7 L795.0,1214.3 L798.0,1215.0 L801.0,1215.7 L804.0,1216.4 L807.0,1217.2 L810.0,1217.9 L813.0,1218.7 L816.0,1219.5 L819.0,1220.3 L822.0,1221.1 L825.0,1222.0 L828.0,1222.9 L831.0,1223.8 L834.0,1224.7 L837.0,1225.6 L840.0,1226.6 L843.0,1227.6 L846.0,1228.6 L849.0,1229.6 L852.0,1230.7 L855.0,1231.7 L858.0,1232.8 L861.0,1233.9 L864.0,1235.0 L867.0,1236.2 L870.0,1237.3 L873.0,1238.5 L876.0,1239.7 L879.0,1240.9 L882.0,1242.1 L885.0,1243.4 L888.0,1244.6 L891.0,1245.9 L894.0,1247.2 L897.0,1248.5 L900.0,1249.8 L903.0,1251.1 L906.0,1252.5 L909.0,1253.9 L912.0,1255.2 L915.0,1256.6 L918.0,1258.1 L921.0,1259.5 L924.0,1260.9 L927.0,1262.4 L930.0,1263.8 L933.0,1265.3 L936.0,1266.8 L939.0,1268.3 L942.0,1269.8 L945.0,1271.4 L948.0,1272.9 L951.0,1274.5 L954.0,1276.0 L957.0,1277.6 L960.0,1279.2 L963.0,1280.8 L966.0,1282.4 L969.0,1284.1 L972.0,1285.7 L975.0,1287.4 L978.0,1289.0 L981.0,1290.7 L984.0,1292.4 L987.0,1294.1 L990.0,1295.8 L993.0,1297.6 L996.0,1299.3 L999.0,1301.1 L1002.0,1302.9 L1005.0,1304.7 L1008.0,1306.5 L1011.0,1308.3 L1014.0,1310.1 L1017.0,1312.0 L1020.0,1313.9 L1023.0,1315.7 L1026.0,1317.6 L1029.0,1319.6 L1032.0,1321.5 L1035.0,1323.4 L1038.0,1325.4 L1041.0,1327.3 L1044.0,1329.3 L1047.0,1331.3 L1050.0,1333.3 L1053.0,1335.4 L1056.0,1337.4 L1059.0,1339.5 L1062.0,1341.5 L1065.0,1343.6 L1068.0,1345.7 L1071.0,1347.8 L1074.0,1350.0 L1077.0,1352.1 L1080.0,1354.3 L1083.0,1356.4 L1086.0,1358.6 L1089.0,1360.8 L1092.0,1363.0 L1095.0,1365.2 L1098.0,1367.5 L1101.0,1369.7 L1104.0,1372.0 L1107.0,1374.2 L1110.0,1376.5 L1113.0,1378.8 L1116.0,1381.1 L1119.0,1383.4 L1122.0,1385.8 L1125.0,1388.1 L1128.0,1390.5 L1131.0,1392.8 L1134.0,1395.2 L1137.0,1397.6 L1140.0,1400.0 L1143.0,1402.4 L1146.0,1404.8 L1149.0,1407.3 L1152.0,1409.7 L1155.0,1412.1 L1158.0,1414.6 L1161.0,1417.1 L1164.0,1419.6 L1167.0,1422.0 L1170.0,1424.5 L1173.0,1427.0 L1176.0,1429.6 L1179.0,1432.1 L1182.0,1434.6 L1185.0,1437.2 L1188.0,1439.7 L1191.0,1442.3 L1194.0,1444.9 L1197.0,1447.4 L1200.0,1450.0 L1203.0,1452.6 L1206.0,1455.2 L1209.0,1457.8 L1212.0,1460.5 L1215.0,1463.1 L1218.0,1465.7 L1221.0,1468.4 L1224.0,1471.0 L1227.0,1473.7 L1230.0,1476.3 L1233.0,1479.0 L1236.0,1481.7 L1239.0,1484.3 L1242.0,1487.0 L1245.0,1489.7 L1248.0,1492.4 L1251.0,1495.1 L1254.0,1497.9 L1257.0,1500.6 L1260.0,1503.3 L1263.0,1506.0 L1266.0,1508.8 L1269.0,1511.5 L1272.0,1514.2 L1275.0,1517.0 L1278.0,1519.8 L1281.0,1522.5 L1284.0,1525.3 L1287.0,1528.0 L1290.0,1530.8 L1293.0,1533.6 L1296.0,1536.4 L1299.0,1539.2 L1302.0,1542.0 L1305.0,1544.7 L1308.0,1547.5 L1311.0,1550.3 L1314.0,1553.1 L1317.0,1555.9 L1320.0,1558.8 L1323.0,1561.6 L1326.0,1564.4 L1329.0,1567.2 L1332.0,1570.0 L1335.0,1572.8 L1338.0,1575.7 L1341.0,1578.5 L1344.0,1581.3 L1347.0,1584.1 L1350.0,1587.0 L1353.0,1589.8 L1356.0,1592.6 L1359.0,1595.5 L1362.0,1598.3 L1365.0,1601.2 L1368.0,1604.0 L1371.0,1606.8 L1374.0,1609.7 L1377.0,1612.5 L1380.0,1615.4 L1383.0,1618.2 L1386.0,1621.1 L1389.0,1623.9 L1392.0,1626.8 L1395.0,1629.7 L1398.0,1632.5 L1401.0,1635.4 L1404.0,1638.2 L1407.0,1641.1 L1410.0,1644.0 L1413.0,1646.8 L1416.0,1649.7 L1419.0,1652.6 L1422.0,1655.4 L1425.0,1658.3 L1428.0,1661.2 L1431.0,1664.0 L1434.0,1666.9 L1437.0,1669.8 L1440.0,1672.7 L1443.0,1675.5 L1446.0,1678.4 L1449.0,1681.3 L1452.0,1684.2 L1455.0,1687.1 L1458.0,1689.9 L1461.0,1692.8 L1464.0,1695.7 L1467.0,1698.6 L1470.0,1701.5 L1473.0,1704.4 L1476.0,1707.2 L1479.0,1710.1 L1482.0,1713.0 L1485.0,1715.9 L1488.0,1718.8 L1491.0,1721.7 L1494.0,1724.6 L1497.0,1727.5 L1500.0,1730.3 L1503.0,1733.2 L1506.0,1736.1 L1509.0,1739.0 L1512.0,1741.9 L1515.0,1744.8 L1518.0,1747.7 L1521.0,1750.6 L1524.0,1753.5 L1527.0,1756.4 L1530.0,1759.3 L1533.0,1762.2 L1536.0,1765.1 L1539.0,1768.0 L1542.0,1770.9 L1545.0,1773.7 L1548.0,1776.6 L1551.0,1779.5 L1554.0,1782.4 L1557.0,1785.3 L1560.0,1788.2 L1563.0,1791.1 L1566.0,1794.0 L1569.0,1796.9 L1572.0,1799.8 L1575.0,1802.7 L1578.0,1805.6 L1581.0,1808.5 L1584.0,1811.4 L1587.0,1814.3 L1590.0,1817.2 L1593.0,1820.1 L1596.0,1822.9 L1599.0,1825.8 L1602.0,1828.7 L1605.0,1831.6 L1608.0,1834.5 L1611.0,1837.4 L1614.0,1840.3 L1617.0,1843.2 L1620.0,1846.1 L1623.0,1849.0 L1626.0,1851.8 L1629.0,1854.7 L1632.0,1857.6 L1635.0,1860.5 L1638.0,1863.4 L1641.0,1866.3 L1644.0,1869.1 L1647.0,1872.0 L1650.0,1874.9 L1653.0,1877.8 L1656.0,1880.7 L1659.0,1883.5 L1662.0,1886.4 L1665.0,1889.3 L1668.0,1892.2 L1671.0,1895.0 L1674.0,1897.9 L1677.0,1900.8 L1680.0,1903.7 L1683.0,1906.5 L1686.0,1909.4 L1689.0,1912.3 L1692.0,1915.1 L1695.0,1918.0 L1698.0,1920.9 L1701.0,1923.7 L1704.0,1926.6 L1707.0,1929.4 L1710.0,1932.3 L1713.0,1935.1 L1714.0,1936.1"/>
<path d="M0.0,1329.6 L3.0,1329.6 L6.0,1329.6 L9.0,1329.6 L12.0,1329.6 L15.0,1329.6 L18.0,1329.6 L21.0,1329.6 L24.0,1329.6 L27.0,1329.6 L30.0,1329.6 L33.0,1329.6 L36.0,1329.6 L39.0,1329.6 L42.0,1329.6 L45.0,1329.6 L48.0,1329.6 L51.0,1329.6 L54.0,1329.6 L57.0,1329.6 L60.0,1329.6 L63.0,1329.6 L66.0,1329.6 L69.0,1329.6 L72.0,1329.6 L75.0,1329.6 L78.0,1329.6 L81.0,1329.6 L84.0,1329.6 L87.0,1329.6 L90.0,1329.6 L93.0,1329.6 L96.0,1329.6 L99.0,1329.6 L102.0,1329.7 L105.0,1329.7 L108.0,1329.7 L111.0,1329.7 L114.0,1329.7 L117.0,1329.7 L120.0,1329.7 L123.0,1329.7 L126.0,1329.7 L129.0,1329.7 L132.0,1329.7 L135.0,1329.7 L138.0,1329.7 L141.0,1329.7 L144.0,1329.7 L147.0,1329.7 L150.0,1329.7 L153.0,1329.7 L156.0,1329.7 L159.0,1329.7 L162.0,1329.7 L165.0,1329.7 L168.0,1329.7 L171.0,1329.7 L174.0,1329.7 L177.0,1329.7 L180.0,1329.7 L183.0,1329.7 L186.0,1329.7 L189.0,1329.7 L192.0,1329.7 L195.0,1329.7 L198.0,1329.7 L201.0,1329.7 L204.0,1329.7 L207.0,1329.7 L210.0,1329.7 L213.0,1329.7 L216.0,1329.7 L219.0,1329.7 L222.0,1329.7 L225.0,1329.7 L228.0,1329.7 L231.0,1329.7 L234.0,1329.7 L237.0,1329.7 L240.0,1329.7 L243.0,1329.7 L246.0,1329.7 L249.0,1329.7 L252.0,1329.7 L255.0,1329.7 L258.0,1329.7 L261.0,1329.7 L264.0,1329.7 L267.0,1329.7 L270.0,1329.7 L273.0,1329.7 L276.0,1329.7 L279.0,1329.7 L282.0,1329.7 L285.0,1329.7 L288.0,1329.7 L291.0,1329.7 L294.0,1329.7 L297.0,1329.7 L300.0,1329.7 L303.0,1329.8 L306.0,1329.8 L309.0,1329.8 L312.0,1329.8 L315.0,1329.8 L318.0,1329.8 L321.0,1329.8 L324.0,1329.8 L327.0,1329.8 L330.0,1329.8 L333.0,1329.8 L336.0,1329.8 L339.0,1329.8 L342.0,1329.8 L345.0,1329.8 L348.0,1329.8 L351.0,1329.8 L354.0,1329.8 L357.0,1329.8 L360.0,1329.8 L363.0,1329.8 L366.0,1329.8 L369.0,1329.8 L372.0,1329.8 L375.0,1329.8 L378.0,1329.8 L381.0,1329.8 L384.0,1329.8 L387.0,1329.8 L390.0,1329.8 L393.0,1329.8 L396.0,1329.8 L399.0,1329.8 L402.0,1329.8 L405.0,1329.8 L408.0,1329.8 L411.0,1329.8 L414.0,1329.8 L417.0,1329.8 L420.0,1329.8 L423.0,1329.8 L426.0,1329.8 L429.0,1329.8 L432.0,1329.8 L435.0,1329.8 L438.0,1329.8 L441.0,1329.8 L444.0,1329.8 L447.0,1329.8 L450.0,1329.8 L453.0,1329.8 L456.0,1329.8 L459.0,1329.8 L462.0,1329.8 L465.0,1329.8 L468.0,1329.8 L471.0,1329.8 L474.0,1329.8 L477.0,1329.8 L480.0,1329.8 L483.0,1329.8 L486.0,1329.8 L489.0,1329.8 L492.0,1329.8 L495.0,1329.8 L498.0,1329.8 L501.0,1329.9 L504.0,1329.9 L507.0,1329.9 L510.0,1329.9 L513.0,1329.9 L516.0,1329.9 L519.0,1329.9 L522.0,1329.9 L525.0,1329.9 L528.0,1329.9 L531.0,1329.9 L534.0,1329.9 L537.0,1329.9 L540.0,1329.9 L543.0,1329.9 L546.0,1329.9 L549.0,1329.9 L552.0,1329.9 L555.0,1329.9 L558.0,1329.9 L561.0,1329.9 L564.0,1329.9 L567.0,1329.9 L570.0,1329.9 L573.0,1329.9 L576.0,1329.9 L579.0,1329.9 L582.0,1329.9 L585.0,1329.9 L588.0,1329.9 L591.0,1329.9 L594.0,1329.9 L597.0,1329.9 L600.0,1329.9 L603.0,1329.9 L606.0,1329.9 L609.0,1329.9 L612.0,1329.9 L615.0,1329.9 L618.0,1329.9 L621.0,1329.9 L624.0,1329.9 L627.0,1329.9 L630.0,1329.9 L633.0,1329.9 L636.0,1329.9 L639.0,1330.0 L642.0,1330.0 L645.0,1330.1 L648.0,1330.2 L651.0,1330.3 L654.0,1330.4 L657.0,1330.5 L660.0,1330.6 L663.0,1330.7 L666.0,1330.9 L669.0,1331.0 L672.0,1331.2 L675.0,1331.4 L678.0,1331.6 L681.0,1331.8 L684.0,1332.0 L687.0,1332.2 L690.0,1332.5 L693.0,1332.8 L696.0,1333.1 L699.0,1333.4 L702.0,1333.7 L705.0,1334.0 L708.0,1334.4 L711.0,1334.7 L714.0,1335.1 L717.0,1335.5 L720.0,1336.0 L723.0,1336.4 L726.0,1336.9 L729.0,1337.4 L732.0,1337.9 L735.0,1338.4 L738.0,1339.0 L741.0,1339.6 L744.0,1340.2 L747.0,1340.8 L750.0,1341.4 L753.0,1342.1 L756.0,1342.8 L759.0,1343.5 L762.0,1344.3 L765.0,1345.0 L768.0,1345.8 L771.0,1346.6 L774.0,1347.5 L777.0,1348.4 L780.0,1349.3 L783.0,1350.2 L786.0,1351.2 L789.0,1352.1 L792.0,1353.1 L795.0,1354.2 L798.0,1355.2 L801.0,1356.3 L804.0,1357.4 L807.0,1358.6 L810.0,1359.7 L813.0,1360.9 L816.0,1362.1 L819.0,1363.3 L822.0,1364.6 L825.0,1365.9 L828.0,1367.2 L831.0,1368.5 L834.0,1369.9 L837.0,1371.3 L840.0,1372.7 L843.0,1374.1 L846.0,1375.6 L849.0,1377.1 L852.0,1378.6 L855.0,1380.1 L858.0,1381.7 L861.0,1383.2 L864.0,1384.8 L867.0,1386.5 L870.0,1388.1 L873.0,1389.8 L876.0,1391.5 L879.0,1393.2 L882.0,1395.0 L885.0,1396.8 L888.0,1398.6 L891.0,1400.4 L894.0,1402.2 L897.0,1404.1 L900.0,1406.0 L903.0,1407.9 L906.0,1409.8 L909.0,1411.8 L912.0,1413.8 L915.0,1415.8 L918.0,1417.8 L921.0,1419.9 L924.0,1422.0 L927.0,1424.1 L930.0,1426.2 L933.0,1428.4 L936.0,1430.5 L939.0,1432.8 L942.0,1435.0 L945.0,1437.2 L948.0,1439.5 L951.0,1441.8 L954.0,1444.1 L957.0,1446.5 L960.0,1448.8 L963.0,1451.2 L966.0,1453.6 L969.0,1456.1 L972.0,1458.5 L975.0,1461.0 L978.0,1463.5 L981.0,1466.1 L984.0,1468.6 L987.0,1471.2 L990.0,1473.8 L993.0,1476.5 L996.0,1479.1 L999.0,1481.8 L1002.0,1484.5 L1005.0,1487.3 L1008.0,1490.0 L1011.0,1492.8 L1014.0,1495.6 L1017.0,1498.5 L1020.0,1501.3 L1023.0,1504.2 L1026.0,1507.1 L1029.0,1510.0 L1032.0,1513.0 L1035.0,1516.0 L1038.0,1519.0 L1041.0,1522.0 L1044.0,1525.1 L1047.0,1528.2 L1050.0,1531.3 L1053.0,1534.4 L1056.0,1537.6 L1059.0,1540.7 L1062.0,1543.9 L1065.0,1547.2 L1068.0,1550.4 L1071.0,1553.7 L1074.0,1557.0 L1077.0,1560.3 L1080.0,1563.6 L1083.0,1566.9 L1086.0,1570.3 L1089.0,1573.7 L1092.0,1577.1 L1095.0,1580.5 L1098.0,1583.9 L1101.0,1587.3 L1104.0,1590.8 L1107.0,1594.3 L1110.0,1597.8 L1113.0,1601.3 L1116.0,1604.8 L1119.0,1608.3 L1122.0,1611.9 L1125.0,1615.4 L1128.0,1619.0 L1131.0,1622.6 L1134.0,1626.2 L1137.0,1629.8 L1140.0,1633.4 L1143.0,1637.0 L1146.0,1640.7 L1149.0,1644.3 L1152.0,1648.0 L1155.0,1651.6 L1158.0,1655.3 L1161.0,1659.0 L1164.0,1662.6 L1167.0,1666.3 L1170.0,1670.0 L1173.0,1673.7 L1176.0,1677.4 L1179.0,1681.1 L1182.0,1684.8 L1185.0,1688.6 L1188.0,1692.3 L1191.0,1696.0 L1194.0,1699.8 L1197.0,1703.5 L1200.0,1707.3 L1203.0,1711.0 L1206.0,1714.8 L1209.0,1718.6 L1212.0,1722.3 L1215.0,1726.1 L1218.0,1729.9 L1221.0,1733.6 L1224.0,1737.4 L1227.0,1741.2 L1230.0,1745.0 L1233.0,1748.8 L1236.0,1752.6 L1239.0,1756.4 L1242.0,1760.2 L1245.0,1764.0 L1248.0,1767.8 L1251.0,1771.6 L1254.0,1775.4 L1257.0,1779.2 L1260.0,1783.0 L1263.0,1786.8 L1266.0,1790.6 L1269.0,1794.4 L1272.0,1798.3 L1275.0,1802.1 L1278.0,1805.9 L1281.0,1809.7 L1284.0,1813.5 L1287.0,1817.3 L1290.0,1821.1 L1293.0,1824.9 L1296.0,1828.7 L1299.0,1832.5 L1302.0,1836.3 L1305.0,1840.1 L1308.0,1843.9 L1311.0,1847.7 L1314.0,1851.5 L1317.0,1855.3 L1320.0,1859.1 L1323.0,1862.9 L1326.0,1866.7 L1329.0,1870.5 L1332.0,1874.3 L1335.0,1878.0 L1338.0,1881.8 L1341.0,1885.6 L1344.0,1889.3 L1347.0,1893.1 L1350.0,1896.9 L1353.0,1900.6 L1356.0,1904.4 L1359.0,1908.1 L1362.0,1911.8 L1365.0,1915.6 L1368.0,1919.3 L1371.0,1923.0 L1374.0,1926.7 L1377.0,1930.4 L1380.0,1934.1 L1382.0,1936.6"/>
</g>
<text x="2.16" y="32.00" font-size="42.59" font-weight="bold" fill="#161616" textLength="696.35" lengthAdjust="spacingAndGlyphs" stroke="#161616" stroke-width="0.6" stroke-linejoin="round">Magnetic shielding series M6, M6L</text>
<polygon points="4.3,48.4 20.1,66.5 4.3,84.5" fill="#161616"/>
<text x="24.92" y="83.00" font-size="44.04" fill="#111" textLength="105.70" lengthAdjust="spacingAndGlyphs" stroke="#fff" stroke-width="0.2">10 Hz</text>
<polygon points="442.7,50.4 469,50.4 455.5,81.6" fill="#df3a1c"/>
<text x="473.17" y="83.00" font-size="44.04" fill="#c23d28" textLength="106.57" lengthAdjust="spacingAndGlyphs" stroke="#fff" stroke-width="0.2">50 Hz</text>
<polygon points="637,51.2 664,51.2 650.5,82.4" fill="#161616"/>
<text x="668.08" y="83.00" font-size="44.04" fill="#111" textLength="129.76" lengthAdjust="spacingAndGlyphs" stroke="#fff" stroke-width="0.2">100 Hz</text>
<text x="761.58" y="32.10" font-size="40.55" font-weight="bold" fill="#d8391c" textLength="465.73" lengthAdjust="spacingAndGlyphs" stroke="#d8391c" stroke-width="1.1" stroke-linejoin="round">MAGNETIC SHIELDING</text>
<text x="950.46" y="78.10" font-size="40.99" font-weight="bold" fill="#d8391c" textLength="285.49" lengthAdjust="spacingAndGlyphs" stroke="#d8391c" stroke-width="1.1" stroke-linejoin="round">3-PHASE COIL</text>
<circle cx="1257.6" cy="17.6" r="15.6" fill="#161616"/>
<path d="M1257.29,7.62 L1261.66,7.62 L1261.66,27.90 L1256.66,27.90 L1256.66,13.54 L1252.30,15.10 L1251.67,11.36Z" fill="#fff"/>
<text x="1279.68" y="33.00" font-size="42.30" fill="#111" textLength="125.20" lengthAdjust="spacingAndGlyphs" stroke="#fff" stroke-width="0.2">1-layer</text>
<circle cx="1436.8" cy="17.6" r="15.6" fill="#161616"/>
<text x="1429.13" y="27.74" font-size="29.25" font-weight="bold" fill="#fff" textLength="15.50" lengthAdjust="spacingAndGlyphs">2</text>
<text x="1457.00" y="33.00" font-size="42.30" fill="#111" textLength="127.69" lengthAdjust="spacingAndGlyphs" stroke="#fff" stroke-width="0.2">2-layer</text>
<circle cx="1614.9" cy="17.6" r="15.6" fill="#161616"/>
<text x="1607.74" y="27.74" font-size="29.25" font-weight="bold" fill="#fff" textLength="14.66" lengthAdjust="spacingAndGlyphs">3</text>
<text x="1636.62" y="33.00" font-size="42.30" fill="#111" textLength="127.07" lengthAdjust="spacingAndGlyphs" stroke="#fff" stroke-width="0.2">3-layer</text>
<circle cx="1793.8" cy="17.6" r="15.6" fill="#161616"/>
<text x="1785.97" y="27.74" font-size="29.25" font-weight="bold" fill="#fff" textLength="15.39" lengthAdjust="spacingAndGlyphs">4</text>
<text x="1814.24" y="33.00" font-size="42.30" fill="#111" textLength="128.36" lengthAdjust="spacingAndGlyphs" stroke="#fff" stroke-width="0.2">4-layer</text>
<polygon points="1284,50.3 1311.9,50.3 1298,82.2" fill="#161616"/>
<text x="1317.21" y="83.00" font-size="44.04" fill="#111" textLength="103.82" lengthAdjust="spacingAndGlyphs" stroke="#fff" stroke-width="0.2">1 kHz</text>
<polygon points="1484.3,50.3 1511.3,50.3 1497.8,82.2" fill="#df3a1c"/>
<text x="1514.82" y="83.00" font-size="44.04" fill="#c23d28" textLength="105.64" lengthAdjust="spacingAndGlyphs" stroke="#fff" stroke-width="0.2">2 kHz</text>
<text x="1795.31" y="83.00" font-size="44.04" fill="#111" textLength="126.21" lengthAdjust="spacingAndGlyphs" stroke="#fff" stroke-width="0.2">10 kHz</text>
<polygon points="1944.6,49.5 1927.9,66.8 1944.6,84.4" fill="#161616"/>
<text x="12.31" y="280.10" font-size="44.48" fill="#111" textLength="96.21" lengthAdjust="spacingAndGlyphs" stroke="#fff" stroke-width="0.2">-5 dB</text>
<text x="12.31" y="462.20" font-size="44.48" fill="#111" textLength="118.51" lengthAdjust="spacingAndGlyphs" stroke="#fff" stroke-width="0.2">-10 dB</text>
<text x="12.31" y="644.30" font-size="44.48" fill="#111" textLength="118.51" lengthAdjust="spacingAndGlyphs" stroke="#fff" stroke-width="0.2">-15 dB</text>
<text x="12.31" y="826.40" font-size="44.48" fill="#111" textLength="118.51" lengthAdjust="spacingAndGlyphs" stroke="#fff" stroke-width="0.2">-20 dB</text>
<text x="12.31" y="1008.50" font-size="44.48" fill="#111" textLength="118.51" lengthAdjust="spacingAndGlyphs" stroke="#fff" stroke-width="0.2">-25 dB</text>
<text x="12.31" y="1190.60" font-size="44.48" fill="#111" textLength="118.51" lengthAdjust="spacingAndGlyphs" stroke="#fff" stroke-width="0.2">-30 dB</text>
<text x="12.31" y="1372.70" font-size="44.48" fill="#111" textLength="118.51" lengthAdjust="spacingAndGlyphs" stroke="#fff" stroke-width="0.2">-35 dB</text>
<text x="12.31" y="1554.80" font-size="44.48" fill="#111" textLength="118.51" lengthAdjust="spacingAndGlyphs" stroke="#fff" stroke-width="0.2">-40 dB</text>
<text x="12.31" y="1736.90" font-size="44.48" fill="#111" textLength="118.51" lengthAdjust="spacingAndGlyphs" stroke="#fff" stroke-width="0.2">-45 dB</text>
<text x="12.31" y="1919.00" font-size="44.48" fill="#111" textLength="118.51" lengthAdjust="spacingAndGlyphs" stroke="#fff" stroke-width="0.2">-50 dB</text>
<circle cx="447.5" cy="809.5" r="18.0" fill="#fff"/>
<circle cx="447.5" cy="809.5" r="16.0" fill="#da3a1e"/>
<path d="M447.18,799.26 L451.66,799.26 L451.66,820.06 L446.54,820.06 L446.54,805.34 L442.06,806.94 L441.42,803.10Z" fill="#fff"/>
<text x="477.54" y="826.00" font-size="44.33" fill="#111" textLength="107.12" lengthAdjust="spacingAndGlyphs" stroke="#fff" stroke-width="0.2">20 dB</text>
<circle cx="447.5" cy="1020.7" r="18.0" fill="#fff"/>
<circle cx="447.5" cy="1020.7" r="16.0" fill="#da3a1e"/>
<text x="439.63" y="1031.10" font-size="30.00" font-weight="bold" fill="#fff" textLength="15.90" lengthAdjust="spacingAndGlyphs">2</text>
<text x="477.94" y="1037.10" font-size="44.33" fill="#111" textLength="107.23" lengthAdjust="spacingAndGlyphs" stroke="#fff" stroke-width="0.2">26 dB</text>
<circle cx="447.8" cy="1173.0" r="18.0" fill="#fff"/>
<circle cx="447.8" cy="1173.0" r="16.0" fill="#da3a1e"/>
<text x="440.46" y="1183.40" font-size="30.00" font-weight="bold" fill="#fff" textLength="15.04" lengthAdjust="spacingAndGlyphs">3</text>
<text x="478.44" y="1190.20" font-size="44.33" fill="#111" textLength="106.71" lengthAdjust="spacingAndGlyphs" stroke="#fff" stroke-width="0.2">30 dB</text>
<circle cx="447.8" cy="1303.7" r="18.0" fill="#fff"/>
<circle cx="447.8" cy="1303.7" r="16.0" fill="#da3a1e"/>
<text x="439.77" y="1314.10" font-size="30.00" font-weight="bold" fill="#fff" textLength="15.78" lengthAdjust="spacingAndGlyphs">4</text>
<text x="478.44" y="1320.60" font-size="44.33" fill="#111" textLength="106.71" lengthAdjust="spacingAndGlyphs" stroke="#fff" stroke-width="0.2">33 dB</text>
<circle cx="1486.5" cy="891.8" r="18.0" fill="#fff"/>
<circle cx="1486.5" cy="891.8" r="16.0" fill="#da3a1e"/>
<path d="M1486.18,881.56 L1490.66,881.56 L1490.66,902.36 L1485.54,902.36 L1485.54,887.64 L1481.06,889.24 L1480.42,885.40Z" fill="#fff"/>
<text x="1516.63" y="908.50" font-size="44.33" fill="#111" textLength="107.33" lengthAdjust="spacingAndGlyphs" stroke="#fff" stroke-width="0.2">22 dB</text>
<circle cx="1486.3" cy="1288.5" r="18.0" fill="#fff"/>
<circle cx="1486.3" cy="1288.5" r="16.0" fill="#da3a1e"/>
<text x="1478.43" y="1298.90" font-size="30.00" font-weight="bold" fill="#fff" textLength="15.90" lengthAdjust="spacingAndGlyphs">2</text>
<text x="1515.91" y="1305.90" font-size="44.33" fill="#111" textLength="109.09" lengthAdjust="spacingAndGlyphs" stroke="#fff" stroke-width="0.2">33 dB</text>
<circle cx="1486.6" cy="1684.7" r="18.0" fill="#fff"/>
<circle cx="1486.6" cy="1684.7" r="16.0" fill="#da3a1e"/>
<text x="1479.26" y="1695.10" font-size="30.00" font-weight="bold" fill="#fff" textLength="15.04" lengthAdjust="spacingAndGlyphs">3</text>
<text x="1516.55" y="1702.20" font-size="44.33" fill="#111" textLength="108.44" lengthAdjust="spacingAndGlyphs" stroke="#fff" stroke-width="0.2">44 dB</text>
<circle cx="1487.0" cy="1918.0" r="18.0" fill="#fff"/>
<circle cx="1487.0" cy="1918.0" r="16.0" fill="#da3a1e"/>
<text x="1478.97" y="1928.40" font-size="30.00" font-weight="bold" fill="#fff" textLength="15.78" lengthAdjust="spacingAndGlyphs">4</text>
<text x="1517.06" y="1932.80" font-size="44.33" fill="#111" textLength="106.89" lengthAdjust="spacingAndGlyphs" stroke="#fff" stroke-width="0.2">55 dB</text>
</svg></body></html>
